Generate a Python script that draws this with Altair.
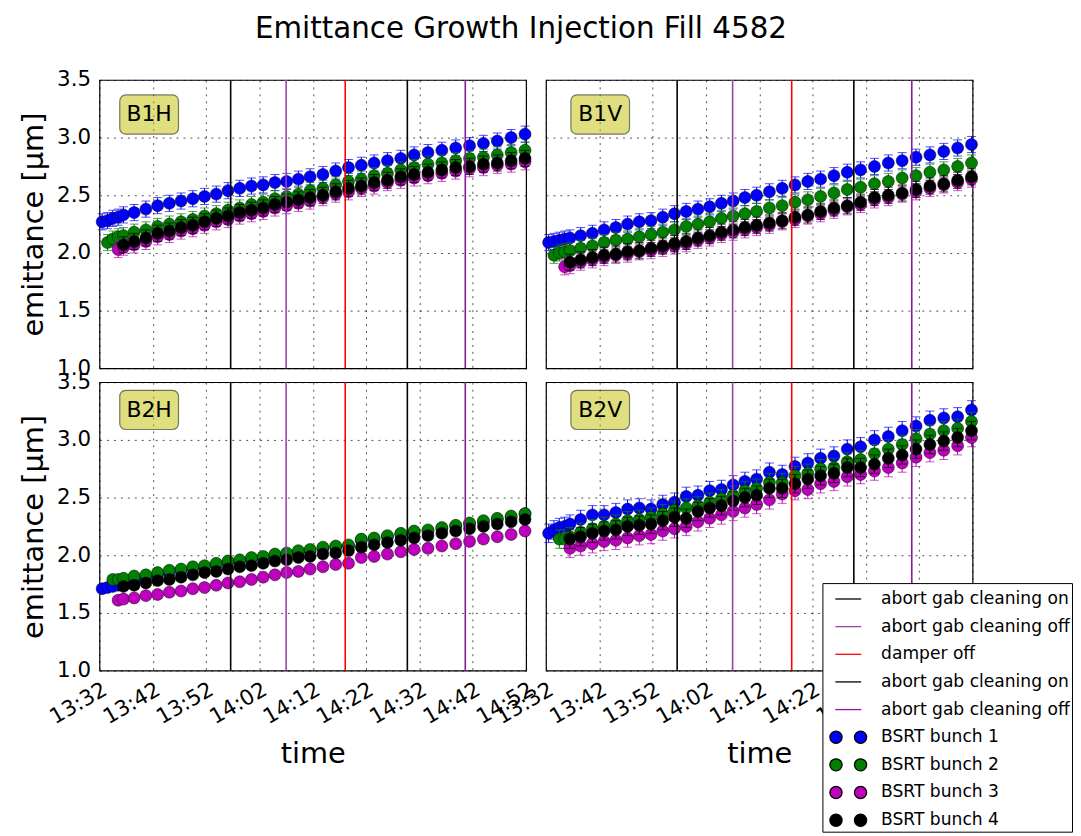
import altair as alt
import pandas as pd

DAY = "2015-11-06T"
TIMES = ["13:32:30", "13:33:30", "13:34:30", "13:35:30", "13:36:30", "13:38:30", "13:40:42",
         "13:42:54", "13:45:06", "13:47:18", "13:49:30", "13:51:42", "13:53:54", "13:56:06",
         "13:58:18", "14:00:30", "14:02:42", "14:04:54", "14:07:06", "14:09:18", "14:11:30",
         "14:13:54", "14:16:18", "14:18:42", "14:21:06", "14:23:30", "14:26:00", "14:28:30",
         "14:31:00", "14:33:36", "14:36:12", "14:38:48", "14:41:24", "14:44:00", "14:46:36",
         "14:49:12", "14:51:48"]

N = None
B1H_1 = [2.27, 2.28, 2.30, 2.31, 2.33, 2.35, 2.38, 2.41, 2.43, 2.45, 2.47, 2.49, 2.51, 2.54, 2.56, 2.58, 2.59, 2.61, 2.62,
         2.64, 2.66, 2.68, 2.71, 2.74, 2.76, 2.78, 2.80, 2.82, 2.85, 2.87, 2.89, 2.91, 2.93, 2.95, 2.97, 3.00, 3.03]
B1H_2 = [N, 2.09, 2.12, 2.14, 2.15, 2.18, 2.20, 2.23, 2.25, 2.27, 2.29, 2.32, 2.34, 2.37, 2.39, 2.42, 2.44, 2.47, 2.49,
         2.51, 2.54, 2.56, 2.59, 2.62, 2.64, 2.67, 2.69, 2.72, 2.74, 2.77, 2.78, 2.80, 2.82, 2.83, 2.85, 2.87, 2.89]
B1H_3 = [N, N, N, 2.03, 2.05, 2.07, 2.10, 2.14, 2.16, 2.19, 2.21, 2.24, 2.27, 2.29, 2.32, 2.34, 2.36, 2.39, 2.41,
         2.43, 2.45, 2.48, 2.51, 2.53, 2.56, 2.58, 2.61, 2.63, 2.65, 2.67, 2.69, 2.71, 2.73, 2.74, 2.76, 2.77, 2.79]
B1H_4 = [N, N, N, N, 2.07, 2.10, 2.13, 2.17, 2.19, 2.22, 2.24, 2.27, 2.30, 2.32, 2.35, 2.37, 2.39, 2.42, 2.44,
         2.46, 2.48, 2.50, 2.53, 2.56, 2.58, 2.61, 2.63, 2.66, 2.68, 2.70, 2.72, 2.74, 2.75, 2.77, 2.78, 2.80, 2.82]

B1V_1 = [2.09, 2.10, 2.11, 2.12, 2.13, 2.15, 2.17, 2.20, 2.22, 2.25, 2.27, 2.28, 2.31, 2.34, 2.36, 2.38, 2.40, 2.43, 2.45,
         2.48, 2.50, 2.53, 2.56, 2.59, 2.62, 2.64, 2.67, 2.70, 2.72, 2.75, 2.78, 2.80, 2.83, 2.85, 2.88, 2.91, 2.94]
B1V_2 = [N, 1.98, 2.00, 2.01, 2.02, 2.04, 2.06, 2.09, 2.11, 2.12, 2.14, 2.16, 2.18, 2.20, 2.23, 2.25, 2.27, 2.30, 2.32,
         2.34, 2.36, 2.39, 2.41, 2.44, 2.46, 2.49, 2.52, 2.55, 2.57, 2.60, 2.62, 2.65, 2.67, 2.70, 2.72, 2.75, 2.78]
B1V_3 = [N, N, N, 1.88, 1.89, 1.92, 1.94, 1.96, 1.98, 1.99, 2.01, 2.02, 2.04, 2.06, 2.08, 2.11, 2.13, 2.16, 2.18,
         2.20, 2.22, 2.24, 2.27, 2.29, 2.32, 2.34, 2.37, 2.40, 2.42, 2.46, 2.48, 2.51, 2.53, 2.56, 2.59, 2.61, 2.64]
B1V_4 = [N, N, N, N, 1.92, 1.94, 1.96, 1.98, 1.99, 2.01, 2.02, 2.04, 2.06, 2.08, 2.10, 2.13, 2.15, 2.18, 2.20,
         2.22, 2.24, 2.26, 2.28, 2.31, 2.33, 2.36, 2.39, 2.41, 2.44, 2.48, 2.50, 2.52, 2.55, 2.58, 2.60, 2.63, 2.66]

B2H_1 = [1.71, 1.72, 1.73, 1.74, 1.76, 1.78, 1.81, 1.83, 1.85, 1.87, 1.89, 1.90, 1.92, 1.94, 1.95, 1.97, 1.98, 2.00, 2.01,
         2.03, 2.04, 2.06, 2.07, 2.08, 2.13, 2.14, 2.16, 2.18, 2.20, 2.21, 2.23, 2.25, 2.27, 2.29, 2.31, 2.33, 2.36]
B2H_2 = [N, N, 1.79, 1.79, 1.80, 1.82, 1.83, 1.85, 1.87, 1.88, 1.90, 1.91, 1.93, 1.95, 1.96, 1.98, 1.99, 2.01, 2.02,
         2.04, 2.05, 2.07, 2.08, 2.09, 2.14, 2.15, 2.17, 2.19, 2.21, 2.22, 2.24, 2.26, 2.28, 2.30, 2.32, 2.34, 2.36]
B2H_3 = [N, N, N, 1.61, 1.62, 1.63, 1.65, 1.66, 1.68, 1.69, 1.71, 1.72, 1.74, 1.76, 1.77, 1.79, 1.81, 1.83, 1.85,
         1.86, 1.88, 1.90, 1.92, 1.93, 1.98, 1.99, 2.01, 2.03, 2.05, 2.06, 2.08, 2.10, 2.12, 2.14, 2.16, 2.18, 2.21]
B2H_4 = [N, N, N, N, 1.73, 1.74, 1.76, 1.78, 1.79, 1.81, 1.83, 1.85, 1.86, 1.88, 1.90, 1.91, 1.93, 1.95, 1.96,
         1.98, 1.99, 2.01, 2.02, 2.04, 2.07, 2.09, 2.11, 2.13, 2.15, 2.17, 2.19, 2.21, 2.23, 2.25, 2.27, 2.29, 2.31]

B2V_1 = [2.19, 2.22, 2.24, 2.25, 2.27, 2.31, 2.35, 2.35, 2.37, 2.40, 2.41, 2.40, 2.44, 2.46, 2.51, 2.52, 2.56, 2.57, 2.61,
         2.64, 2.66, 2.72, 2.70, 2.77, 2.80, 2.84, 2.86, 2.92, 2.94, 3.00, 3.03, 3.08, 3.12, 3.17, 3.19, 3.20, 3.26]
B2V_2 = [N, N, 2.14, 2.14, 2.16, 2.20, 2.23, 2.25, 2.27, 2.30, 2.31, 2.33, 2.36, 2.39, 2.41, 2.43, 2.46, 2.49, 2.52,
         2.56, 2.58, 2.63, 2.63, 2.69, 2.71, 2.75, 2.76, 2.81, 2.83, 2.88, 2.92, 2.96, 3.01, 3.05, 3.08, 3.10, 3.16]
B2V_3 = [N, N, N, N, 2.06, 2.08, 2.10, 2.12, 2.13, 2.15, 2.17, 2.18, 2.21, 2.23, 2.25, 2.29, 2.32, 2.35, 2.38,
         2.41, 2.44, 2.48, 2.53, 2.56, 2.57, 2.62, 2.64, 2.68, 2.70, 2.73, 2.76, 2.80, 2.85, 2.89, 2.91, 2.95, 3.02]
B2V_4 = [N, N, N, N, 2.14, 2.16, 2.19, 2.21, 2.22, 2.25, 2.26, 2.27, 2.30, 2.33, 2.32, 2.38, 2.41, 2.43, 2.47,
         2.50, 2.52, 2.58, 2.58, 2.62, 2.66, 2.69, 2.71, 2.76, 2.76, 2.79, 2.84, 2.87, 2.92, 2.96, 2.99, 3.02, 3.08]

PANEL_NAMES = ["B1H", "B1V", "B2H", "B2V"]
PANEL_SERIES = {"B1H": [B1H_1, B1H_2, B1H_3, B1H_4], "B1V": [B1V_1, B1V_2, B1V_3, B1V_4],
                "B2H": [B2H_1, B2H_2, B2H_3, B2H_4], "B2V": [B2V_1, B2V_2, B2V_3, B2V_4]}
PANEL_ERR = {"B1H": 0.07, "B1V": 0.07, "B2H": 0.03, "B2V": 0.08}
# label box (time start, time end, y low, y high) and text anchor
PANEL_BOX = {"B1H": ("13:35:48", "13:46:49", 3.03, 3.37, "13:41:18", 3.20),
             "B1V": ("13:36:40", "13:47:40", 3.03, 3.37, "13:42:10", 3.20),
             "B2H": ("13:35:48", "13:46:49", 3.09, 3.43, "13:41:18", 3.26),
             "B2V": ("13:36:40", "13:47:40", 3.09, 3.43, "13:42:10", 3.26)}

BUNCH_LABELS = ["BSRT bunch 1", "BSRT bunch 2", "BSRT bunch 3", "BSRT bunch 4"]
BUNCH_COLORS = ["#0000ff", "#008000", "#bf00bf", "#000000"]

RULE_TIMES = ["13:56:36", "14:07:00", "14:18:05", "14:29:44", "14:40:36"]
RULE_LABELS = ["abort gab cleaning on", "abort gab cleaning off", "damper off",
               "abort gab cleaning on ", "abort gab cleaning off "]
RULE_COLORS = ["#000000", "#a040b0", "#ff0000", "#000000", "#8a1a9a"]

TICK_LABELS = ["13:32", "13:42", "13:52", "14:02", "14:12", "14:22", "14:32", "14:42", "14:52"]
Y_TICKS = [1.0, 1.5, 2.0, 2.5, 3.0, 3.5]

FONT = "DejaVu Sans"
W, H = 429, 290
TICK_FS = 21.5
TITLE_FS = 29


def dt(hm):
    h, m = hm.split(":")[:2]
    return alt.DateTime(year=2015, month=11, date=6, hours=int(h), minutes=int(m))


x_domain = [dt(TICK_LABELS[0]), dt(TICK_LABELS[-1])]
x_values = [dt(t) for t in TICK_LABELS]

rows = []
for p in PANEL_NAMES:
    for lab, col, vals in zip(BUNCH_LABELS, BUNCH_COLORS, PANEL_SERIES[p]):
        for t, v in zip(TIMES, vals):
            if v is None:
                continue
            e = PANEL_ERR[p]
            rows.append({"panel": p, "bunch": lab, "col": col, "t": DAY + t,
                         "v": v, "lo": v - e, "hi": v + e})
pts = pd.DataFrame(rows)

rules = pd.DataFrame({"t": [DAY + t for t in RULE_TIMES], "label": RULE_LABELS, "col": RULE_COLORS})

LEG_DOMAIN = RULE_LABELS + BUNCH_LABELS
TWO_DOTS = ("M -1.42,0 A 0.47,0.47 0 1,0 -0.48,0 A 0.47,0.47 0 1,0 -1.42,0 Z "
            "M 0.48,0 A 0.47,0.47 0 1,0 1.42,0 A 0.47,0.47 0 1,0 0.48,0 Z")
legend_df = pd.DataFrame({"label": LEG_DOMAIN, "t": [DAY + RULE_TIMES[0]] * len(LEG_DOMAIN),
                          "v": [None] * len(LEG_DOMAIN)})

GRID = dict(gridColor="black", gridDash=[2, 5], gridOpacity=0.85, gridWidth=0.8)


def make_panel(p, row, colidx):
    d = pts[pts.panel == p]
    xaxis = alt.Axis(values=x_values, format="%H:%M", grid=True, ticks=False, domain=False,
                     labels=(row == 1), labelAngle=330, labelFontSize=TICK_FS, labelFont=FONT,
                     labelColor="black", labelFlush=False, labelOverlap=False, labelPadding=8,
                     title="time" if row == 1 else None, titleFontSize=TITLE_FS, titleFont=FONT,
                     titleFontWeight="normal", titleColor="black", titlePadding=12, **GRID)
    yaxis = alt.Axis(values=Y_TICKS, format=".1f", grid=True, ticks=False, domain=False,
                     labels=(colidx == 0), labelFontSize=TICK_FS, labelFont=FONT, labelColor="black",
                     labelOverlap=False, labelPadding=9, labelFlush=False,
                     title="emittance [μm]" if colidx == 0 else None, titleFontSize=TITLE_FS,
                     titleFont=FONT, titleFontWeight="normal", titleColor="black", titlePadding=8,
                     **GRID)
    X = alt.X("t:T", scale=alt.Scale(domain=x_domain), axis=xaxis)
    Y = alt.Y("v:Q", scale=alt.Scale(domain=[1.0, 3.5], nice=False, zero=False), axis=yaxis)

    layers = []
    for lab in BUNCH_LABELS:
        base = alt.Chart(d[d.bunch == lab])
        err = base.mark_rule(strokeWidth=1).encode(
            x=X, y=alt.Y("lo:Q"), y2="hi:Q", color=alt.Color("col:N", scale=None))
        caps_lo = base.mark_tick(orient="horizontal", size=9, thickness=1).encode(
            x="t:T", y="lo:Q", color=alt.Color("col:N", scale=None))
        caps_hi = base.mark_tick(orient="horizontal", size=9, thickness=1).encode(
            x="t:T", y="hi:Q", color=alt.Color("col:N", scale=None))
        dots = base.mark_point(filled=True, opacity=1, size=145, stroke="black", strokeWidth=0.5).encode(
            x="t:T", y=Y, fill=alt.Fill("col:N", scale=None))
        layers += [err, caps_lo, caps_hi, dots]

    vlines = alt.Chart(rules).mark_rule(strokeWidth=1.6).encode(
        x="t:T", color=alt.Color("col:N", scale=None))

    bx = PANEL_BOX[p]
    box_df = pd.DataFrame({"t1": [DAY + bx[0]], "t2": [DAY + bx[1]], "y1": [bx[2]], "y2": [bx[3]],
                           "tt": [DAY + bx[4]], "yt": [bx[5]], "name": [p]})
    box = alt.Chart(box_df).mark_rect(cornerRadius=6, fill="#bfbf00", fillOpacity=0.5,
                                      stroke="#000000", strokeOpacity=0.5, strokeWidth=1.2).encode(
        x="t1:T", x2="t2:T", y="y1:Q", y2="y2:Q")
    txt = alt.Chart(box_df).mark_text(font=FONT, fontSize=22, color="black").encode(
        x="tt:T", y="yt:Q", text="name:N")

    layers += [vlines, box, txt]
    if p == "B2V":
        leg = alt.Legend(orient="none", legendX=727, legendY=506, title=None, labelFont=FONT,
                         labelFontSize=17.2, labelColor="black", padding=2, symbolOffset=10,
                         labelOffset=19, rowPadding=4.8, fillColor="white", strokeColor="black",
                         symbolStrokeWidth=1.3, cornerRadius=0, labelLimit=0)
        legend_layer = alt.Chart(legend_df).mark_point(filled=True, opacity=1).encode(
            x="t:T", y="v:Q",
            fill=alt.Fill("label:N", scale=alt.Scale(domain=LEG_DOMAIN, range=RULE_COLORS + BUNCH_COLORS),
                          legend=leg),
            stroke=alt.Stroke("label:N", scale=alt.Scale(domain=LEG_DOMAIN,
                                                         range=RULE_COLORS + ["black"] * 4), legend=leg),
            shape=alt.Shape("label:N", scale=alt.Scale(domain=LEG_DOMAIN,
                                                       range=["stroke"] * 5 + [TWO_DOTS] * 4), legend=leg),
            size=alt.Size("label:N", scale=alt.Scale(domain=LEG_DOMAIN, range=[676] * 9), legend=leg),
        )
        layers.append(legend_layer)
    return alt.layer(*layers).properties(width=W, height=H)


chart = alt.concat(
    make_panel("B1H", 0, 0), make_panel("B1V", 0, 1),
    make_panel("B2H", 1, 0), make_panel("B2V", 1, 1),
    columns=2, spacing={"row": 14, "column": 20}, bounds="flush",
).properties(
    title=alt.TitleParams("Emittance Growth Injection Fill 4582", font=FONT, fontSize=29.5,
                          fontWeight="normal", color="black", anchor="middle", offset=24, dx=-25),
    padding={"left": 11, "top": 3, "right": 0, "bottom": 0},
).configure_view(stroke="black", strokeWidth=1.2)

chart.save("out.html", embed_options={"renderer": "svg", "actions": False})
